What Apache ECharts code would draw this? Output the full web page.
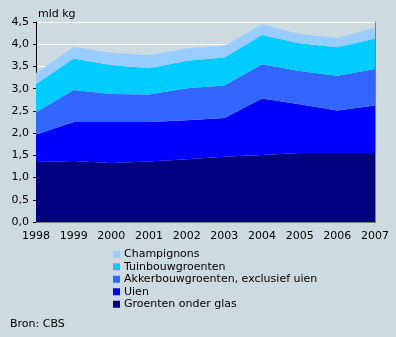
<!DOCTYPE html>
<html><head><meta charset="utf-8">
<script src="https://cdn.jsdelivr.net/npm/echarts@6/dist/echarts.min.js"></script>
<style>html,body{margin:0;padding:0;background:#cddbe0;}#c{width:396px;height:337px;}</style>
</head><body><div id="c"></div>
<script>
const years = ['1998','1999','2000','2001','2002','2003','2004','2005','2006','2007'];
const glas = [1.35,1.37,1.33,1.36,1.41,1.47,1.51,1.55,1.55,1.55];
const uien = [0.62,0.88,0.92,0.89,0.88,0.87,1.27,1.10,0.96,1.07];
const akker = [0.50,0.72,0.63,0.62,0.72,0.73,0.77,0.75,0.78,0.82];
const tuin = [0.63,0.71,0.65,0.59,0.62,0.63,0.66,0.62,0.64,0.69];
const champ = [0.25,0.26,0.28,0.29,0.28,0.26,0.24,0.21,0.21,0.24];
const names = ['Groenten onder glas','Uien','Akkerbouwgroenten, exclusief uien','Tuinbouwgroenten','Champignons'];
const colors = ['#000080','#0000ff','#3366ff','#00ccff','#99ccff'];
const values = [glas, uien, akker, tuin, champ];
const font = 'DejaVu Sans, Verdana, sans-serif';
const chart = echarts.init(document.getElementById('c'));
chart.setOption({
  backgroundColor: '#cddbe0',
  animation: false,
  textStyle: {fontFamily: font, fontSize: 11, color: '#000'},
  grid: {left: 36, right: 21, top: 22, bottom: 115},
  title: [
    {text: 'mld kg', left: 33, top: 4, textStyle: {fontFamily: font, fontSize: 11, fontWeight: 'normal', color: '#000'}},
    {text: 'Bron: CBS', left: 5, top: 314, textStyle: {fontFamily: font, fontSize: 11, fontWeight: 'normal', color: '#000'}}
  ],
  legend: {
    orient: 'vertical', left: 113, top: 248, padding: 0, itemWidth: 7, itemHeight: 7, itemGap: 0,
    icon: 'rect', data: names.slice().reverse(),
    textStyle: {fontFamily: font, fontSize: 11, color: '#000', lineHeight: 12.5, padding: [0,0,0,-1]}
  },
  xAxis: [{
    type: 'category', data: years, boundaryGap: false,
    axisLine: {lineStyle: {color: '#000', width: 1}},
    axisTick: {show: false},
    axisLabel: {color: '#000', fontFamily: font, fontSize: 11, margin: 9},
    splitLine: {show: false}
  }, {
    type: 'category', data: years, boundaryGap: false, position: 'top',
    axisLine: {lineStyle: {color: '#808080', width: 1}},
    axisTick: {show: false}, axisLabel: {show: false}
  }],
  yAxis: [{
    type: 'value', min: 0, max: 4.5, interval: 0.5,
    axisLine: {show: true, lineStyle: {color: '#000', width: 1}},
    axisTick: {show: true, length: 3, lineStyle: {color: '#000'}},
    axisLabel: {color: '#000', fontFamily: font, fontSize: 11, margin: 7,
      formatter: v => v.toFixed(1).replace('.', ',')},
    splitLine: {show: true, lineStyle: {color: '#ffffff', width: 1}}
  }, {
    type: 'value', min: 0, max: 4.5, interval: 0.5, position: 'right',
    axisLine: {show: true, lineStyle: {color: '#808080', width: 1}},
    axisTick: {show: false}, axisLabel: {show: false}, splitLine: {show: false}
  }],
  series: names.map((n, i) => ({
    name: n, type: 'line', stack: 'total', data: values[i],
    symbol: 'none', lineStyle: {width: 0}, itemStyle: {color: colors[i]},
    areaStyle: {color: colors[i], opacity: 1}
  }))
});
</script></body></html>
